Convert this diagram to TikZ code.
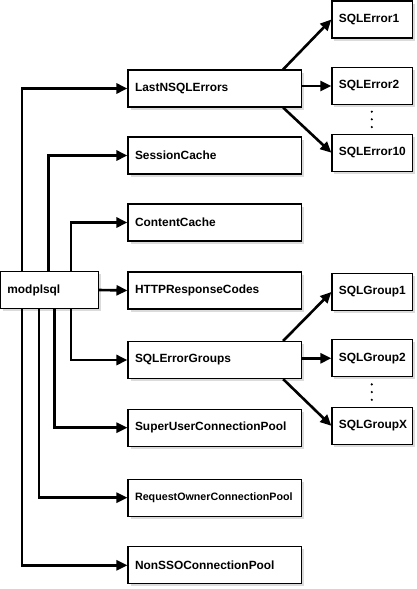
\documentclass[tikz,border=0pt]{standalone}
\usepackage{fontspec}
\setmainfont{Liberation Sans}
\usetikzlibrary{calc,arrows.meta,shadows}

\tikzset{
  box/.style={draw, line width=1.2pt, fill=white, inner xsep=7pt, inner ysep=0pt,
    minimum height=37pt, align=left, font=\bfseries\fontsize{11.9}{14}\selectfont,
    drop shadow={shadow xshift=2.5pt, shadow yshift=-2.5pt, fill=black!14, opacity=1}},
  midbox/.style={box, text width=159.5pt},
  endbox/.style={box, text width=66.7pt},
  conn/.style={line width=2.6pt, -{Triangle[length=11pt,width=10pt]}}
}

\begin{document}
\begin{tikzpicture}[x=1pt,y=-1pt]

\useasboundingbox (0,0) rectangle (417,589);

% Root
\node[box, text width=84pt] (root) at (49.4,290) {modplsql};

% Middle column
\node[midbox] (lastn)   at (214.8,88.5)  {LastNSQLErrors};
\node[midbox] (session) at (214.8,155.5) {SessionCache};
\node[midbox] (content) at (214.8,222.5) {ContentCache};
\node[midbox] (http)    at (214.8,290.5) {HTTPResponseCodes};
\node[midbox] (groups)  at (214.8,360)   {SQLErrorGroups};
\node[midbox] (super)   at (214.8,427.7) {SuperUserConnectionPool};
\node[midbox] (owner)   at (214.8,497.7) {\fontsize{10.7}{13}\selectfont RequestOwnerConnectionPool};
\node[midbox] (nonsso)  at (214.8,565.3) {NonSSOConnectionPool};

% Right column
\node[endbox] (err1)  at (372.3,19.5)  {SQLError1};
\node[endbox] (err2)  at (372.3,86)    {SQLError2};
\node[endbox] (err10) at (372.3,152.7) {SQLError10};
\node[endbox] (grp1)  at (372.3,292)   {SQLGroup1};
\node[endbox] (grp2)  at (372.3,358.3) {SQLGroup2};
\node[endbox] (grpx)  at (372.3,425.8) {SQLGroupX};

% Dots between the last two boxes
\coordinate (dotse) at ($(err2.south)!0.5!(err10.north)$);
\coordinate (dotsg) at ($(grp2.south)!0.5!(grpx.north)$);
\foreach \c in {dotse,dotsg}
  \foreach \dy in {-7.7,0,7.7}
    \fill ($(\c)+(-0.5,\dy)$) circle (1.2pt);

% Connectors from root, upwards
\draw[conn] ([xshift=22pt]root.north west) |- (lastn.west);
\draw[conn] ([xshift=48.5pt]root.north west) |- (session.west);
\draw[conn] ([xshift=71pt]root.north west) |- (content.west);
\draw[conn] (root.east) -- (http.west);

% Connectors from root, downwards
\draw[conn] ([xshift=71pt]root.south west) |- (groups.west);
\draw[conn] ([xshift=54.5pt]root.south west) |- (super.west);
\draw[conn] ([xshift=39pt]root.south west) |- (owner.west);
\draw[conn] ([xshift=22pt]root.south west) |- (nonsso.west);

% Fan out to errors and groups
\draw[conn] ([xshift=-19pt]lastn.north east) -- (err1.west);
\draw[conn] (lastn.east |- err2.west) -- (err2.west);
\draw[conn] ([xshift=-19pt]lastn.south east) -- (err10.west);
\draw[conn] ([xshift=-19pt]groups.north east) -- (grp1.west);
\draw[conn] (groups.east |- grp2.west) -- (grp2.west);
\draw[conn] ([xshift=-19pt]groups.south east) -- (grpx.west);

\end{tikzpicture}
\end{document}
